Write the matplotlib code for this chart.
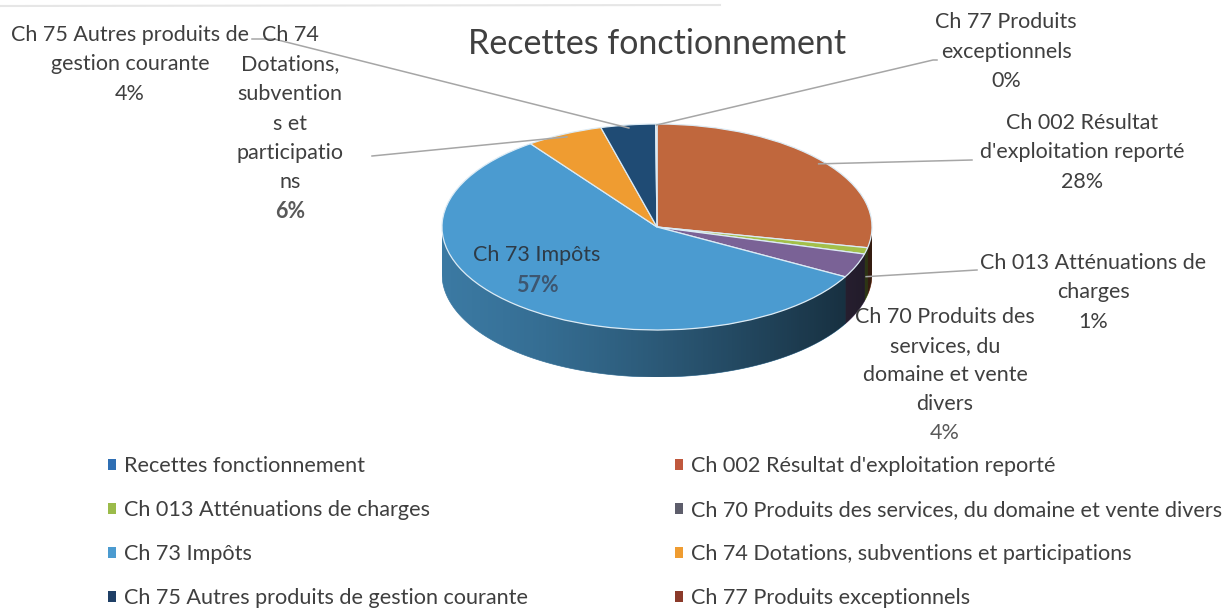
import numpy as np
import matplotlib
matplotlib.use("Agg")
import matplotlib.pyplot as plt
from matplotlib.patches import Polygon
from matplotlib.colors import to_rgb

plt.rcParams['font.family'] = ['Lato', 'DejaVu Sans']

# data
labels = ["Recettes fonctionnement",
          "Ch 002 Résultat d'exploitation reporté",
          "Ch 013 Atténuations de charges",
          "Ch 70 Produits des services, du domaine et vente divers",
          "Ch 73 Impôts",
          "Ch 74 Dotations, subventions et participations",
          "Ch 75 Autres produits de gestion courante",
          "Ch 77 Produits exceptionnels"]
values = [0.0, 28.2, 1.0, 3.8, 56.9, 5.8, 4.1, 0.1]
top_colors = ["#2f6fb4", "#c0673d", "#a3c04a", "#7a6296", "#4b9bd0",
              "#ef9c31", "#1f4b74", "#8b3a2a"]
legend_colors = ["#2f6fb4", "#c0583d", "#9bbb4a", "#5d5d6b", "#4b9bd0",
                 "#ef9c31", "#1f3f66", "#8b3a2a"]

W, H = 1228, 611
fig = plt.figure(figsize=(W / 100, H / 100), dpi=100)

# pie axes, top ellipse centred at (657, 227) px, rx 215, ry 103, depth 47
cx, cy, rx, ry, dep = 657, 227, 215, 103, 47
d = dep / ry
ax = fig.add_axes([(cx - rx) / W, 1 - (cy + ry + dep) / H, 2 * rx / W, (2 * ry + dep) / H])
wedges, _ = ax.pie(values, colors=top_colors, startangle=90, counterclock=False,
                   wedgeprops=dict(edgecolor="#dcebf5", linewidth=0.9))
ax.set_aspect('auto')
for w in wedges:
    w.set_zorder(3)

# side of the 3D pie, only the front half is visible
for w, col in zip(wedges, top_colors):
    t = np.linspace(w.theta1, w.theta2, 300)
    t = t[np.sin(np.radians(t)) <= 0]
    if len(t) < 2:
        continue
    tr = np.radians(t)
    xs = np.cos(tr)
    ys = np.sin(tr)
    verts = np.concatenate([np.c_[xs, ys], np.c_[xs[::-1], ys[::-1] - d]])
    c = np.array(to_rgb(col)) * 0.78
    ax.add_patch(Polygon(verts, closed=True, facecolor=c, edgecolor=c, lw=0.5, zorder=1))

tt = np.radians(np.linspace(180, 360, 400))
side = np.concatenate([np.c_[np.cos(tt), np.sin(tt)], np.c_[np.cos(tt[::-1]), np.sin(tt[::-1]) - d]])
side_patch = Polygon(side, closed=True, facecolor='none', edgecolor='none')
ax.add_patch(side_patch)
grad = np.zeros((2, 256, 4))
grad[..., 3] = np.linspace(0.0, 0.72, 256) ** 1.3
im = ax.imshow(grad, extent=[-1, 1, -1 - d, 0], aspect='auto', zorder=2, interpolation='bilinear')
im.set_clip_path(side_patch)
ax.set_xlim(-1, 1)
ax.set_ylim(-1 - d, 1)
ax.axis('off')

# overlay in pixel coordinates for labels and leader lines
ov = fig.add_axes([0, 0, 1, 1], facecolor='none')
ov.set_xlim(0, W)
ov.set_ylim(H, 0)
ov.axis('off')
ov.plot([0, 720], [6, 5], color="#e6e6e6", lw=1.5)  # faint chart border

txt = "#3f3f3f"
fs = 15.5
ov.text(657, 44, "Recettes fonctionnement", fontsize=24.5, color="#404040", ha='center', va='center')


def to_px(x, y):
    p = ax.transData.transform((x, y))
    return ov.transData.inverted().transform(p)


def anchor(i, r=0.95, drop=0.0):
    w = wedges[i]
    a = np.radians((w.theta1 + w.theta2) / 2)
    return to_px(r * np.cos(a), r * np.sin(a) - drop)


def label(x, y0, lines, colors=None, weights=None, step=29.5):
    for k, s in enumerate(lines):
        c = colors[k] if colors else txt
        fw = weights[k] if weights else 'normal'
        ov.text(x, y0 + k * step, s, fontsize=fs, color=c, ha='center', va='center', fontweight=fw)


lc = "#a6a6a6"
# Ch 75
label(130, 35, ["Ch 75 Autres produits de", "gestion courante", "4%"])
p = anchor(6, 0.97)
ov.plot([252, 274, p[0]], [39, 39, p[1]], color=lc, lw=1.1)
# Ch 74
label(290, 35, ["Ch 74", "Dotations,", "subvention", "s et", "participatio", "ns", "6%"],
      colors=[txt] * 6 + ["#595959"], weights=['normal'] * 6 + ['bold'])
p = anchor(5, 0.97)
ov.plot([372, p[0]], [156, p[1]], color=lc, lw=1.1)
# Ch 77
label(1006, 22, ["Ch 77 Produits", "exceptionnels", "0%"])
p = anchor(7, 0.99)
ov.plot([p[0], 933, 937], [p[1], 60, 60], color=lc, lw=1.1)
# Ch 002
label(1082, 123, ["Ch 002 Résultat", "d'exploitation reporté", "28%"])
p = anchor(1, 0.97)
ov.plot([p[0], 972], [p[1], 160], color=lc, lw=1.1)
# Ch 013
label(1093, 263, ["Ch 013 Atténuations de", "charges", "1%"])
p = anchor(2, 1.0, drop=0.25)
ov.plot([p[0], 977], [p[1], 270], color=lc, lw=1.1)
# Ch 70
label(945, 317, ["Ch 70 Produits des", "services, du", "domaine et vente", "divers", "4%"],
      colors=[txt] * 4 + ["#595959"], step=29)
# Ch 73 inside
ov.text(537, 255, "Ch 73 Impôts", fontsize=fs, color="#2e3b47", ha='center', va='center')
ov.text(537, 285, "57%", fontsize=fs, color="#3d5670", ha='center', va='center', fontweight='bold')

# legend, two columns filled row by row
order = [0, 2, 4, 6, 1, 3, 5, 7]
handles = []
for i in order:
    h = plt.Rectangle((0, 0), 1, 1, facecolor=legend_colors[i], edgecolor='none')
    handles.append(h)
leg = fig.legend(handles, [labels[i] for i in order], ncol=2, loc='upper left',
                 bbox_to_anchor=(88 / W, 1 - 437 / H), frameon=False, fontsize=15.6,
                 handlelength=0.38, handleheight=0.38, handletextpad=0.37,
                 columnspacing=6.8, labelspacing=1.1)
for t in leg.get_texts():
    t.set_color(txt)

fig.savefig("out.png", dpi=100)
